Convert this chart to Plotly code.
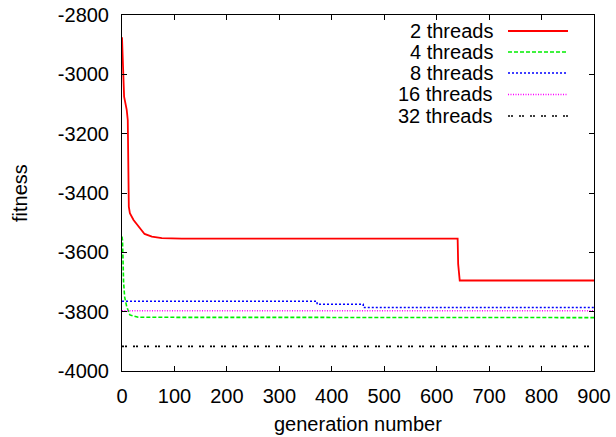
import plotly.graph_objects as go

# ---- data ----
series_names = ["2 threads", "4 threads", "8 threads", "16 threads", "32 threads"]

gen_2 = [0, 4, 9, 11, 13, 15, 22, 31, 43, 57, 76, 114, 640, 641, 644, 900]
fit_2 = [-2875, -3075, -3120, -3154, -3446, -3468, -3491, -3513, -3538, -3547, -3552, -3554, -3554, -3640, -3695, -3695]

gen_4 = [0, 1, 3, 5, 9, 15, 31, 900]
fit_4 = [-3547, -3560, -3700, -3750, -3783, -3811, -3819, -3820]

gen_8 = [0, 372, 372, 460, 460, 900]
fit_8 = [-3765, -3765, -3775, -3775, -3786, -3786]

gen_16 = [0, 900]
fit_16 = [-3797, -3797]

gen_32 = [0, 900]
fit_32 = [-3917, -3917]

x_ticks = [0, 100, 200, 300, 400, 500, 600, 700, 800, 900]
y_ticks = [-4000, -3800, -3600, -3400, -3200, -3000, -2800]
y_tick_labels = ["-4000", "-3800", "-3600", "-3400", "-3200", "-3000", "-2800"]

x_title = "generation number"
y_title = "fitness"

colors = ["#ff0000", "#00ee00", "#0000ff", "#ff00ff", "#000000"]
dashes = ["solid", "4px,2px", "2px,2px", "1px,1.5px", "2px,1px,2px,6px"]
widths = [1.8, 1.6, 1.6, 1.6, 1.6]

xs = [gen_2, gen_4, gen_8, gen_16, gen_32]
ys = [fit_2, fit_4, fit_8, fit_16, fit_32]

FONT = "Liberation Sans, Arial, sans-serif"
FS = 20

fig = go.Figure()
for name, x, y, c, d, w in zip(series_names, xs, ys, colors, dashes, widths):
    fig.add_trace(go.Scatter(x=x, y=y, mode="lines", name=name,
                             line=dict(color=c, width=w, dash=d),
                             showlegend=False, hoverinfo="skip"))

# plot-area geometry in pixels
L, R, T, B = 122, 594, 15, 371
W, H = R - L, B - T
def px(xp):
    return (xp - L) / W
def py(yp):
    return (B - yp) / H

# custom gnuplot-style legend (text right-aligned, sample on the right)
row_y = [31, 52, 73, 94.5, 116]
for i, name in enumerate(series_names):
    fig.add_annotation(x=px(495), y=py(row_y[i]), xref="paper", yref="paper",
                       text=name, showarrow=False, xanchor="right", yanchor="middle",
                       font=dict(family=FONT, size=FS, color="black"))
    fig.add_shape(type="line", xref="paper", yref="paper",
                  x0=px(508), x1=px(568), y0=py(row_y[i]), y1=py(row_y[i]),
                  line=dict(color=colors[i], width=widths[i], dash=dashes[i]))

# axis titles
fig.add_annotation(x=px(358), y=py(424), xref="paper", yref="paper", text=x_title,
                   showarrow=False, xanchor="center", yanchor="middle",
                   font=dict(family=FONT, size=FS, color="black"))
fig.add_annotation(x=px(20), y=py(193), xref="paper", yref="paper", text=y_title,
                   showarrow=False, xanchor="center", yanchor="middle", textangle=-90,
                   font=dict(family=FONT, size=FS, color="black"))

axis_common = dict(showgrid=False, zeroline=False, showline=True, linecolor="black",
                   linewidth=1, mirror="allticks", ticks="inside", ticklen=5,
                   tickcolor="black", tickwidth=1, automargin=False,
                   tickfont=dict(family=FONT, size=FS, color="black"))

fig.update_xaxes(range=[0, 900], tickvals=x_ticks, ticktext=[str(v) for v in x_ticks],
                 ticklabelstandoff=7, **axis_common)
fig.update_yaxes(range=[-4000, -2800], tickvals=y_ticks, ticktext=y_tick_labels,
                 ticklabelstandoff=8, **axis_common)

fig.update_layout(width=616, height=437, autosize=False,
                  margin=dict(l=L, r=616 - R, t=T, b=437 - B, pad=0),
                  paper_bgcolor="white", plot_bgcolor="white",
                  font=dict(family=FONT, size=FS, color="black"))

fig.write_html("out.html", config={"displayModeBar": False},
               post_script="document.body.style.margin='0';document.body.style.padding='0';")
